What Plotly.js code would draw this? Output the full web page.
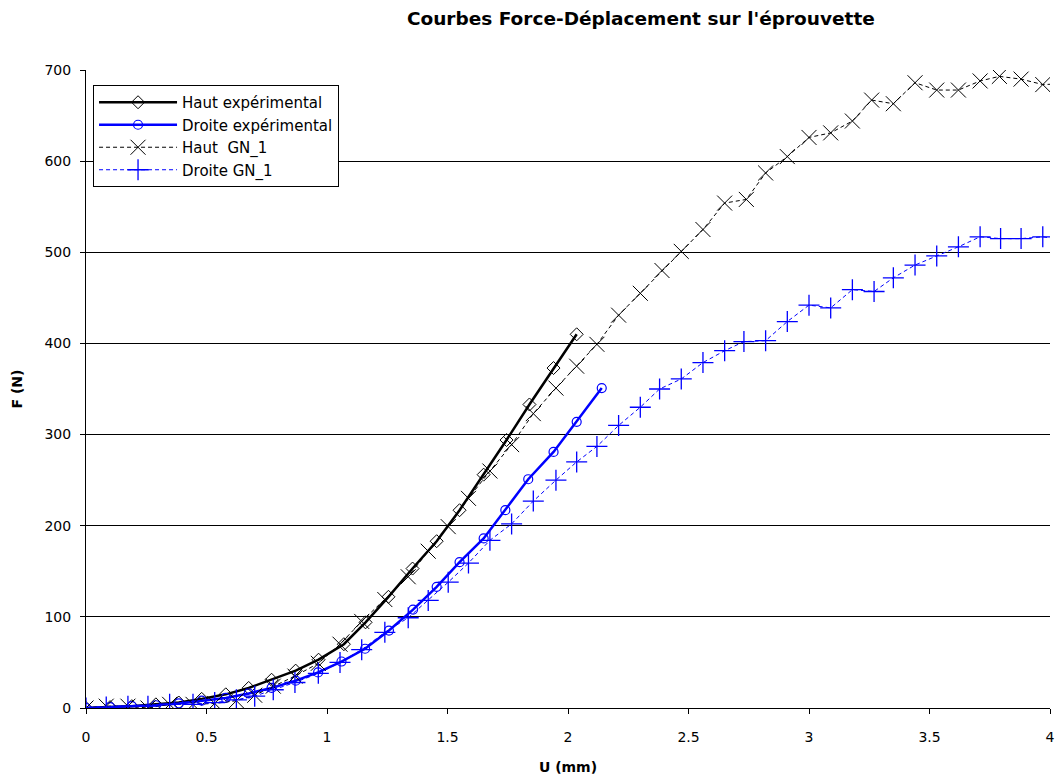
<!DOCTYPE html>
<html>
<head>
<meta charset="utf-8">
<script src="https://cdn.plot.ly/plotly-3.0.1.min.js"></script>
<style>html,body{margin:0;padding:0;background:#fff;}#chart{width:1061px;height:781px;}</style>
</head>
<body>
<div id="chart"></div>
<script>
// Haut expérimental
const hautExpX = [0, 0.10, 0.19, 0.29, 0.385, 0.48, 0.58, 0.675, 0.77, 0.87, 0.965, 1.07, 1.16, 1.255, 1.355, 1.455, 1.55, 1.65, 1.745, 1.84, 1.94, 2.036];
const hautExpY = [0, 1, 2, 4, 6, 10, 15, 22, 31, 41, 53, 70, 94, 122, 153, 183, 217, 256, 294, 333, 373, 410];
// Droite expérimental
const droiteExpX = [0, 0.10, 0.19, 0.29, 0.385, 0.48, 0.58, 0.675, 0.77, 0.87, 0.963, 1.06, 1.158, 1.257, 1.357, 1.455, 1.55, 1.65, 1.74, 1.835, 1.94, 2.036, 2.14];
const droiteExpY = [0, 1, 2, 3, 5, 8, 11, 16, 22, 30, 39, 51, 65, 85, 108, 133, 160, 186, 217, 251, 281, 314, 351];
// Haut GN_1
const hautGnX = [0, 0.084, 0.174, 0.257, 0.347, 0.444, 0.534, 0.624, 0.70, 0.777, 0.867, 0.964, 1.054, 1.144, 1.24, 1.337, 1.42, 1.503, 1.587, 1.676, 1.766, 1.856, 1.95, 2.036, 2.12, 2.21, 2.30, 2.39, 2.47, 2.56, 2.65, 2.74, 2.82, 2.91, 3.00, 3.09, 3.18, 3.26, 3.35, 3.44, 3.53, 3.62, 3.71, 3.79, 3.88, 3.97, 4.06];
const hautGnY = [0, 2, 2, 0, 4, 4, 5, 8, 14, 24, 35, 49, 70, 95, 119, 144, 172, 199, 230, 260, 289, 323, 351, 375, 399, 431, 455, 480, 501, 525, 554, 558, 587, 605, 626, 631, 644, 667, 663, 686, 678, 678, 688, 693, 690, 684, 685];
// Droite GN_1
const droiteGnX = [0, 0.084, 0.174, 0.257, 0.347, 0.444, 0.534, 0.624, 0.70, 0.777, 0.867, 0.964, 1.054, 1.144, 1.24, 1.337, 1.42, 1.503, 1.587, 1.676, 1.766, 1.856, 1.95, 2.036, 2.12, 2.21, 2.30, 2.38, 2.47, 2.56, 2.65, 2.73, 2.82, 2.91, 3.00, 3.09, 3.18, 3.27, 3.35, 3.44, 3.53, 3.62, 3.71, 3.795, 3.88, 3.97, 4.06];
const droiteGnY = [0, 1, 2, 2, 4, 4, 6, 9, 13, 20, 28, 38, 50, 64, 83, 99, 118, 138, 159, 184, 202, 227, 250, 270, 287, 310, 330, 350, 361, 379, 392, 402, 403, 424, 442, 439, 459, 457, 472, 486, 496, 506, 517, 515, 515, 517, 513];

const xTickVals = [0, 0.5, 1, 1.5, 2, 2.5, 3, 3.5, 4];
const xTickText = ['0', '0.5', '1', '1.5', '2', '2.5', '3', '3.5', '4'];
const yTickVals = [0, 100, 200, 300, 400, 500, 600, 700];

const traces = [
  {x: hautExpX, y: hautExpY, name: 'Haut expérimental', mode: 'lines+markers',
   line: {color: '#000000', width: 2.5},
   marker: {symbol: 'diamond-open', size: 10, color: '#000000', line: {width: 1, color: '#000000'}}},
  {x: droiteExpX, y: droiteExpY, name: 'Droite expérimental', mode: 'lines+markers',
   line: {color: '#0000ff', width: 2.5},
   marker: {symbol: 'circle-open', size: 9, color: '#0000ff', line: {width: 1.2, color: '#0000ff'}}},
  {x: hautGnX, y: hautGnY, name: 'Haut  GN_1', mode: 'lines+markers',
   line: {color: '#000000', width: 1, dash: '4px,3px'},
   marker: {symbol: 'x-thin-open', size: 15, color: '#000000', line: {width: 1, color: '#000000'}}},
  {x: droiteGnX, y: droiteGnY, name: 'Droite GN_1', mode: 'lines+markers',
   line: {color: '#0000ff', width: 1, dash: '4px,3px'},
   marker: {symbol: 'cross-thin-open', size: 15, color: '#0000ff', line: {width: 1.3, color: '#0000ff'}}}
];

const F = 'DejaVu Sans, Liberation Sans, Arial, sans-serif';
const layout = {
  width: 1061, height: 781,
  margin: {l: 86, r: 11, t: 70, b: 73},
  paper_bgcolor: '#ffffff', plot_bgcolor: '#ffffff',
  font: {family: F, size: 14, color: '#000'},
  title: {text: "Courbes Force-Déplacement sur l'éprouvette", x: 0.604, xanchor: 'center', y: 0.984, yanchor: 'top',
          font: {family: F, size: 18.5, weight: 'bold', color: '#000'}},
  xaxis: {range: [0, 4], tickvals: xTickVals, ticktext: xTickText,
          showgrid: false, zeroline: false, showline: true, linecolor: '#000', linewidth: 1,
          ticks: 'outside', ticklen: 5, tickcolor: '#000', tickfont: {family: F, size: 14}, ticklabelstandoff: 11,
          title: {text: '<b>U (mm)</b>', font: {family: F, size: 14}, standoff: 18}},
  yaxis: {range: [0, 700], tickvals: yTickVals,
          showgrid: true, gridcolor: '#000', gridwidth: 1, zeroline: false, showline: true, linecolor: '#000', linewidth: 1,
          ticks: 'outside', ticklen: 5, tickcolor: '#000', tickfont: {family: F, size: 14}, ticklabelstandoff: 6,
          title: {text: '<b>F (N)</b>', font: {family: F, size: 14}, standoff: 18}},
  showlegend: true,
  legend: {x: 0.0073, y: 0.9765, xanchor: 'left', yanchor: 'top', bgcolor: '#ffffff', bordercolor: '#000', borderwidth: 1,
           font: {family: F, size: 15, color: '#000'}, tracegroupgap: 0, itemwidth: 78}
};

Plotly.newPlot('chart', traces, layout, {displayModeBar: false, staticPlot: true});
</script>
</body>
</html>
